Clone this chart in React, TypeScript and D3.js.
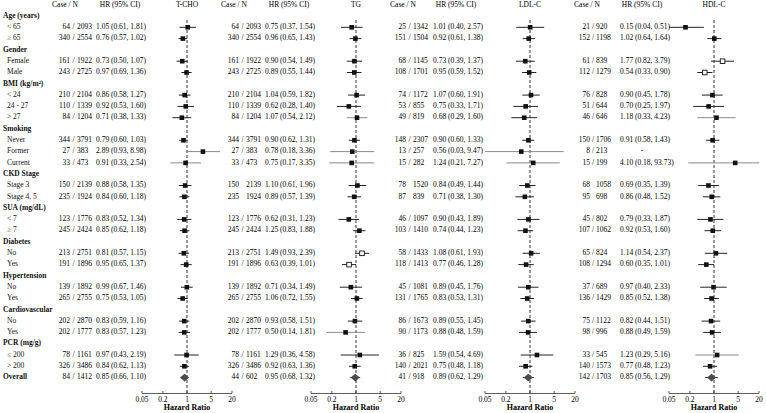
import React from 'react';
import * as d3 from 'd3';

// subgroup rows (bold header + levels)
const groups = [
  { name: 'Age (years)', levels: ['< 65', '≥ 65'] },
  { name: 'Gender', levels: ['Female', 'Male'] },
  { name: 'BMI (kg/m²)', levels: ['< 24', '24 - 27', '> 27'] },
  { name: 'Smoking', levels: ['Never', 'Former', 'Current'] },
  { name: 'CKD Stage', levels: ['Stage 3', 'Stage 4, 5'] },
  { name: 'SUA (mg/dL)', levels: ['< 7', '≥ 7'] },
  { name: 'Diabetes', levels: ['No', 'Yes'] },
  { name: 'Hypertension', levels: ['No', 'Yes'] },
  { name: 'Cardiovascular', levels: ['No', 'Yes'] },
  { name: 'PCR (mg/g)', levels: ['≤ 200', '> 200'] },
];
const overallLabel = 'Overall';

const ticks = [0.05, 0.2, 1, 5, 20];

// [case, N]
const tchoCounts = [
  [64, 2093], [340, 2554], [161, 1922], [243, 2725], [210, 2104], [110, 1339], [84, 1204],
  [344, 3791], [27, 383], [33, 473], [150, 2139], [235, 1924], [123, 1776], [245, 2424],
  [213, 2751], [191, 1896], [139, 1892], [265, 2755], [202, 2870], [202, 1777],
  [78, 1161], [326, 3486], [84, 1412],
];
// [HR, lower, upper]
const tchoHR = [
  [1.05, 0.61, 1.81], [0.76, 0.57, 1.02], [0.73, 0.5, 1.07], [0.97, 0.69, 1.36],
  [0.86, 0.58, 1.27], [0.92, 0.53, 1.6], [0.71, 0.38, 1.33], [0.79, 0.6, 1.03],
  [2.89, 0.93, 8.98], [0.91, 0.33, 2.54], [0.88, 0.58, 1.35], [0.84, 0.6, 1.18],
  [0.83, 0.52, 1.34], [0.85, 0.62, 1.18], [0.81, 0.57, 1.15], [0.95, 0.65, 1.37],
  [0.99, 0.67, 1.46], [0.75, 0.53, 1.05], [0.83, 0.59, 1.16], [0.83, 0.57, 1.23],
  [0.97, 0.43, 2.19], [0.84, 0.62, 1.13], [0.85, 0.66, 1.1],
];

const tgCounts = [
  [64, 2093], [340, 2554], [161, 1922], [243, 2725], [210, 2104], [110, 1339], [84, 1204],
  [344, 3791], [27, 383], [33, 473], [150, 2139], [235, 1924], [123, 1776], [245, 2424],
  [213, 2751], [191, 1896], [139, 1892], [265, 2755], [202, 2870], [202, 1777],
  [78, 1161], [326, 3486], [44, 602],
];
const tgHR = [
  [0.75, 0.37, 1.54], [0.96, 0.65, 1.43], [0.9, 0.54, 1.49], [0.89, 0.55, 1.44],
  [1.04, 0.59, 1.82], [0.62, 0.28, 1.4], [1.07, 0.54, 2.12], [0.9, 0.62, 1.31],
  [0.78, 0.18, 3.36], [0.75, 0.17, 3.35], [1.1, 0.61, 1.96], [0.89, 0.57, 1.39],
  [0.62, 0.31, 1.23], [1.25, 0.83, 1.88], [1.49, 0.93, 2.39], [0.63, 0.39, 1.01],
  [0.71, 0.34, 1.49], [1.06, 0.72, 1.55], [0.93, 0.58, 1.51], [0.5, 0.14, 1.81],
  [1.29, 0.36, 4.58], [0.92, 0.63, 1.36], [0.95, 0.68, 1.32],
];

const ldlCounts = [
  [25, 1342], [151, 1504], [68, 1145], [108, 1701], [74, 1172], [53, 855], [49, 819],
  [148, 2307], [13, 257], [15, 282], [78, 1520], [87, 839], [46, 1097], [103, 1410],
  [58, 1433], [118, 1413], [45, 1081], [131, 1765], [86, 1673], [90, 1173],
  [36, 825], [140, 2021], [41, 918],
];
const ldlHR = [
  [1.01, 0.4, 2.57], [0.92, 0.61, 1.38], [0.73, 0.39, 1.37], [0.95, 0.59, 1.52],
  [1.07, 0.6, 1.91], [0.75, 0.33, 1.71], [0.68, 0.29, 1.6], [0.9, 0.6, 1.33],
  [0.56, 0.03, 9.47], [1.24, 0.21, 7.27], [0.84, 0.49, 1.44], [0.71, 0.38, 1.3],
  [0.9, 0.43, 1.89], [0.74, 0.44, 1.23], [1.08, 0.61, 1.93], [0.77, 0.46, 1.28],
  [0.89, 0.45, 1.76], [0.83, 0.53, 1.31], [0.89, 0.55, 1.45], [0.88, 0.48, 1.59],
  [1.59, 0.54, 4.69], [0.75, 0.48, 1.18], [0.89, 0.62, 1.29],
];

const hdlCounts = [
  [21, 920], [152, 1198], [61, 839], [112, 1279], [76, 828], [51, 644], [46, 646],
  [150, 1706], [8, 213], [15, 199], [68, 1058], [95, 698], [45, 802], [107, 1062],
  [65, 824], [108, 1294], [37, 689], [136, 1429], [75, 1122], [98, 996],
  [33, 545], [140, 1573], [142, 1703],
];
const hdlHR = [
  [0.15, 0.04, 0.51], [1.02, 0.64, 1.64], [1.77, 0.82, 3.79], [0.54, 0.33, 0.9],
  [0.9, 0.45, 1.78], [0.7, 0.25, 1.97], [1.18, 0.33, 4.23], [0.91, 0.58, 1.43],
  null, [4.1, 0.18, 93.73], [0.69, 0.35, 1.39], [0.86, 0.48, 1.52],
  [0.79, 0.33, 1.87], [0.92, 0.53, 1.6], [1.14, 0.54, 2.37], [0.6, 0.35, 1.01],
  [0.97, 0.4, 2.33], [0.85, 0.52, 1.38], [0.82, 0.44, 1.51], [0.88, 0.49, 1.59],
  [1.23, 0.29, 5.16], [0.77, 0.48, 1.23], [0.85, 0.56, 1.29],
];

// layout per panel
const panels = [
  { title: 'T-CHO', counts: tchoCounts, hr: tchoHR, center: 187, caseHead: 65, caseEnd: 70, nStart: 77, hrStart: 96, hrHead: 120,
    grey: [8, 9], open: [], noSlash: [] },
  { title: 'TG', counts: tgCounts, hr: tgHR, center: 356, caseHead: 234, caseEnd: 239, nStart: 246, hrStart: 265, hrHead: 289,
    grey: [6, 8, 9, 19], open: [14, 15], noSlash: [10, 11] },
  { title: 'LDL-C', counts: ldlCounts, hr: ldlHR, center: 530, caseHead: 403, caseEnd: 406, nStart: 413, hrStart: 433, hrHead: 456,
    grey: [8, 9], open: [], noSlash: [10, 11] },
  { title: 'HDL-C', counts: hdlCounts, hr: hdlHR, center: 714, caseHead: 587, caseEnd: 590, nStart: 596, hrStart: 620, hrHead: 642,
    grey: [6, 9, 20], open: [2, 3], noSlash: [10, 11] },
];

const W = 766;
const H = 413;
const FONT = '"Liberation Serif", "Times New Roman", serif';
const headY = 5;
const row0 = 16;
const rowStep = 11.3;
const axisY = 393.5;
const half = 45;

const fmt = (v: number) => v.toFixed(2);

export default function App() {
  // build row list
  const rows: { label: string; bold: boolean; data: number }[] = [];
  let di = 0;
  groups.forEach((g) => {
    rows.push({ label: g.name, bold: true, data: -1 });
    g.levels.forEach((l) => rows.push({ label: l, bold: false, data: di++ }));
  });
  rows.push({ label: overallLabel, bold: true, data: di });
  const yOf = (i: number) => row0 + rowStep * i;
  const dataRows = rows.map((r, i) => ({ ...r, y: yOf(i) })).filter((r) => r.data >= 0);
  const overallIdx = di;

  return (
    <svg width={W} height={H} style={{ position: 'absolute', left: 0, top: 0, background: '#fff' }}
      fontFamily={FONT} fontSize={7.5}>
      {rows.map((r, i) => (
        <text key={'lab' + i} x={r.bold ? 3 : 7} y={yOf(i)} dominantBaseline="middle"
          fontWeight={r.bold ? 'bold' : 'normal'} fill="#111">{r.label}</text>
      ))}
      {panels.map((p) => {
        const x = d3.scaleLog().domain([0.05, 20]).range([p.center - half, p.center + half]).clamp(true);
        const slashX = (p.caseEnd + p.nStart) / 2;
        return (
          <g key={p.title}>
            <text x={p.caseHead} y={headY} textAnchor="middle" dominantBaseline="middle">Case / N</text>
            <text x={p.hrHead} y={headY} textAnchor="middle" dominantBaseline="middle">HR (95% CI)</text>
            <text x={p.center} y={headY} textAnchor="middle" dominantBaseline="middle">{p.title}</text>
            <line x1={x(1)} x2={x(1)} y1={20} y2={axisY} stroke="#333" strokeWidth={1} strokeDasharray="3,2" />
            {dataRows.map((r) => {
              const c = p.counts[r.data];
              const v = p.hr[r.data];
              const grey = p.grey.includes(r.data);
              const open = p.open.includes(r.data);
              return (
                <g key={r.data}>
                  <text x={p.caseEnd} y={r.y} textAnchor="end" dominantBaseline="middle">{c[0]}</text>
                  {!p.noSlash.includes(r.data) && (
                    <text x={slashX} y={r.y} textAnchor="middle" dominantBaseline="middle">/</text>
                  )}
                  <text x={p.nStart} y={r.y} dominantBaseline="middle">{c[1]}</text>
                  {v ? (
                    <text x={p.hrStart} y={r.y} dominantBaseline="middle">
                      {`${fmt(v[0])} (${fmt(v[1])}, ${fmt(v[2])})`}
                    </text>
                  ) : (
                    <text x={p.hrHead} y={r.y} textAnchor="middle" dominantBaseline="middle">-</text>
                  )}
                  {v && (
                    <line x1={x(v[1])} x2={x(v[2])} y1={r.y} y2={r.y}
                      stroke={grey ? '#8a8a8a' : '#222'} strokeWidth={1} />
                  )}
                  {v && r.data === overallIdx && (
                    <path d={`M${x(v[0]) - 4.5},${r.y}L${x(v[0])},${r.y - 3.8}L${x(v[0]) + 4.5},${r.y}L${x(v[0])},${r.y + 3.8}Z`}
                      fill="#4a4a4a" />
                  )}
                  {v && r.data !== overallIdx && (
                    <rect x={x(v[0]) - 2.3} y={r.y - 2.3} width={4.6} height={4.6}
                      fill={open ? '#fff' : '#111'} stroke="#111" strokeWidth={open ? 0.9 : 0} />
                  )}
                </g>
              );
            })}
            <line x1={p.center - half} x2={p.center + half} y1={axisY} y2={axisY} stroke="#333" strokeWidth={0.8} />
            {ticks.map((t) => (
              <g key={t}>
                <line x1={x(t)} x2={x(t)} y1={axisY} y2={axisY - 2.5} stroke="#333" strokeWidth={0.8} />
                <text x={x(t)} y={axisY + 7} textAnchor="middle" dominantBaseline="middle">{t}</text>
              </g>
            ))}
            <text x={p.center} y={axisY + 14.5} textAnchor="middle" dominantBaseline="middle"
              fontWeight="bold" fontSize={8}>Hazard Ratio</text>
          </g>
        );
      })}
    </svg>
  );
}
